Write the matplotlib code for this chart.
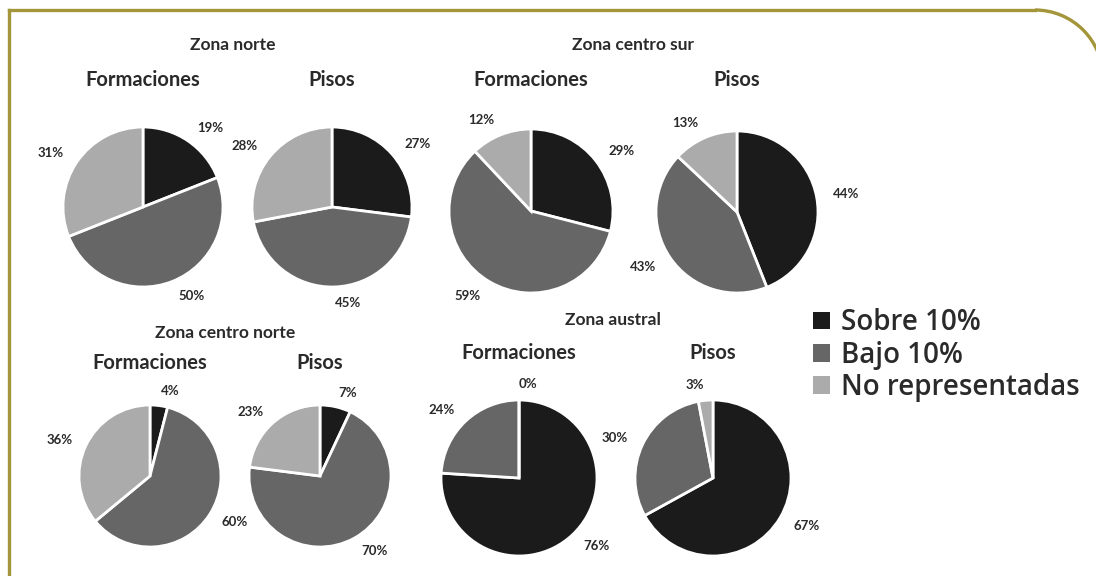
import matplotlib.pyplot as plt
from matplotlib.patches import Arc, Patch
from matplotlib.lines import Line2D

W, H = 1096, 576

# Shares per zone (Sobre 10%, Bajo 10%, No representadas), in percent
categories = ["Sobre 10%", "Bajo 10%", "No representadas"]
norte_formaciones = [19, 50, 31]
norte_pisos = [27, 45, 28]
centro_sur_formaciones = [29, 59, 12]
centro_sur_pisos = [44, 43, 13]
centro_norte_formaciones = [4, 60, 36]
centro_norte_pisos = [7, 70, 23]
austral_formaciones = [76, 24, 0]
austral_pisos = [67, 30, 3]

colors = ["#1b1b1b", "#666666", "#ababab"]
txt_color = "#2a2a2a"
gold = "#a3953a"
font = "Lato"

fig = plt.figure(figsize=(W / 100, H / 100), dpi=100)
fig.patch.set_facecolor("white")

# Overlay in pixel units for the frame and headings
ov = fig.add_axes([0, 0, 1, 1])
ov.set_xlim(0, W)
ov.set_ylim(H, 0)
ov.axis("off")
ov.add_line(Line2D([9, 1035], [10, 10], color=gold, lw=2.4))
ov.add_line(Line2D([9, 9], [10, H], color=gold, lw=2.4))
ov.add_patch(Arc((1035, 78), 136, 136, theta1=270, theta2=360, color=gold, lw=2.4))


def pie_at(values, cx, cy, r):
    s = 2.5 * r
    ax = fig.add_axes([(cx - s / 2) / W, (H - cy - s / 2) / H, s / W, s / H])
    ax.pie(values, labels=[f"{v}%" for v in values], colors=colors,
           startangle=90, counterclock=False, labeldistance=1.2,
           wedgeprops=dict(edgecolor="white", linewidth=2),
           textprops=dict(fontsize=9.5, fontweight="bold", color=txt_color,
                          family=font))
    ax.set_aspect("equal")
    return ax


panels = [
    ("Zona norte", 233, 45, norte_formaciones, (143, 207, 80), 80,
     norte_pisos, (332, 207, 80)),
    ("Zona centro sur", 633, 45, centro_sur_formaciones, (531, 211, 82), 80,
     centro_sur_pisos, (737, 212, 81)),
    ("Zona centro norte", 225, 333, centro_norte_formaciones, (150, 476, 71), 363,
     centro_norte_pisos, (320, 476, 71)),
    ("Zona austral", 613, 320, austral_formaciones, (519, 478, 78), 353,
     austral_pisos, (713, 478, 78)),
]

for zone, zx, zy, fvals, fpos, sub_y, pvals, ppos in panels:
    ov.text(zx, zy, zone, ha="center", va="center", fontsize=12.5,
            fontweight="bold", color=txt_color, family=font)
    ov.text(fpos[0], sub_y, "Formaciones", ha="center", va="center",
            fontsize=14.5, fontweight="bold", color=txt_color, family=font)
    ov.text(ppos[0], sub_y, "Pisos", ha="center", va="center",
            fontsize=14.5, fontweight="bold", color=txt_color, family=font)
    pie_at(fvals, *fpos)
    pie_at(pvals, *ppos)

handles = [Patch(facecolor=c, edgecolor="none") for c in colors]
fig.legend(handles, categories, loc="center left",
           bbox_to_anchor=(813 / W, 1 - 355 / H), frameon=False,
           handlelength=0.6, handleheight=0.6, handletextpad=0.4,
           labelspacing=0.12, borderaxespad=0, borderpad=0,
           prop=dict(family="Open Sans", size=20, weight="semibold"),
           labelcolor=txt_color)

fig.savefig("out.png", dpi=100, facecolor="white")
